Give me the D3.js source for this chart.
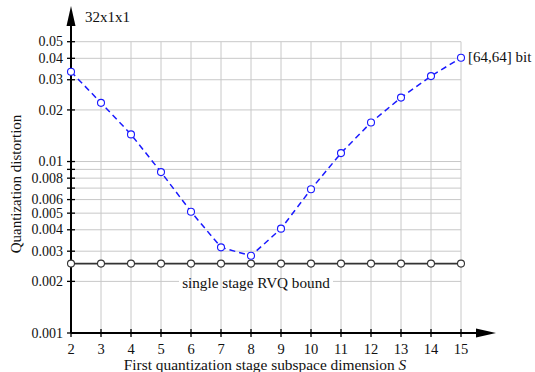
<!DOCTYPE html>
<html>
<head>
<meta charset="utf-8">
<script src="https://cdn.jsdelivr.net/npm/d3@7"></script>
<style>
  body { margin: 0; background: #fff; }
  text { font-family: "Liberation Serif", "Times New Roman", serif; fill: #111; }
</style>
</head>
<body>
<div id="chart"></div>
<script>
// data
const dims = [2, 3, 4, 5, 6, 7, 8, 9, 10, 11, 12, 13, 14, 15];
const distortion = [0.0334, 0.0220, 0.0144, 0.00868, 0.0051, 0.00316, 0.00282, 0.00406, 0.00689, 0.0112, 0.0169, 0.0236, 0.0315, 0.0403];
const bound = [0.00254, 0.00254, 0.00254, 0.00254, 0.00254, 0.00254, 0.00254, 0.00254, 0.00254, 0.00254, 0.00254, 0.00254, 0.00254, 0.00254];
const yTickLabels = [0.001, 0.002, 0.003, 0.004, 0.005, 0.006, 0.008, 0.01, 0.02, 0.03, 0.04, 0.05];
const yGridValues = [0.002, 0.003, 0.004, 0.005, 0.006, 0.007, 0.008, 0.009, 0.01, 0.02, 0.03, 0.04, 0.05];
const yMinorTicks = [0.007, 0.009];

const W = 535, H = 372;
const svg = d3.select("#chart").append("svg")
    .attr("width", W).attr("height", H);

const x = d3.scaleLinear().domain([2, 15]).range([71, 461]);
const y = d3.scaleLog().domain([0.001, 0.05]).range([333, 41.7]);

// grid: horizontal lines
const grid = svg.append("g").attr("stroke", "#c8c8c8").attr("stroke-width", 1);
grid.selectAll("line.h").data(yGridValues).enter().append("line")
    .attr("x1", x(2)).attr("x2", x(15))
    .attr("y1", d => y(d)).attr("y2", d => y(d));

// white band hiding the 0.002 line behind the bound label
svg.append("rect")
    .attr("x", 179).attr("y", y(0.002) - 2).attr("width", 154).attr("height", 4)
    .attr("fill", "#fff");

// grid: vertical lines
svg.append("g").attr("stroke", "#c8c8c8").attr("stroke-width", 1)
    .selectAll("line").data(dims.slice(1)).enter().append("line")
    .attr("x1", d => x(d)).attr("x2", d => x(d))
    .attr("y1", y(0.001)).attr("y2", y(0.05));

// bound label
svg.append("text")
    .attr("x", 256).attr("y", 288)
    .attr("text-anchor", "middle")
    .attr("font-size", 15.2)
    .text("single stage RVQ bound");

// axes
const axes = svg.append("g").attr("stroke", "#000");
axes.append("line").attr("x1", x(2)).attr("x2", 480)
    .attr("y1", y(0.001)).attr("y2", y(0.001)).attr("stroke-width", 2);
axes.append("line").attr("x1", x(2)).attr("x2", x(2))
    .attr("y1", y(0.001)).attr("y2", 22).attr("stroke-width", 2);
svg.append("path").attr("d", `M496,${y(0.001)} L476,${y(0.001) - 4.5} L476,${y(0.001) + 4.5} Z`).attr("fill", "#000");
svg.append("path").attr("d", `M${x(2)},6 L${x(2) - 4.5},26 L${x(2) + 4.5},26 Z`).attr("fill", "#000");

// ticks crossing the axes
axes.selectAll("line.yt").data(yTickLabels.concat(yMinorTicks)).enter().append("line")
    .attr("x1", x(2) - 4).attr("x2", x(2) + 4)
    .attr("y1", d => y(d)).attr("y2", d => y(d)).attr("stroke-width", 1.3);
axes.selectAll("line.xt").data(dims).enter().append("line")
    .attr("x1", d => x(d)).attr("x2", d => x(d))
    .attr("y1", y(0.001) - 4).attr("y2", y(0.001) + 4).attr("stroke-width", 1.3);

// tick labels
svg.selectAll("text.yl").data(yTickLabels).enter().append("text")
    .attr("x", x(2) - 8).attr("y", d => y(d) + 4.6)
    .attr("text-anchor", "end").attr("font-size", 14)
    .text(d => String(d));
svg.selectAll("text.xl").data(dims).enter().append("text")
    .attr("x", d => x(d)).attr("y", 354)
    .attr("text-anchor", "middle").attr("font-size", 14.5)
    .text(d => d);

// axis titles
const xt = svg.append("text")
    .attr("x", 265).attr("y", 370)
    .attr("text-anchor", "middle").attr("font-size", 15.4);
xt.append("tspan").text("First quantization stage subspace dimension ");
xt.append("tspan").attr("font-style", "italic").text("S");

svg.append("text")
    .attr("transform", "translate(21,184) rotate(-90)")
    .attr("text-anchor", "middle").attr("font-size", 15)
    .text("Quantization distortion");

svg.append("text").attr("x", 85).attr("y", 22).attr("font-size", 15).text("32x1x1");

// bound line
const line = (vals) => d3.line().x((d, i) => x(dims[i])).y(d => y(d))(vals);
svg.append("path").attr("d", line(bound))
    .attr("fill", "none").attr("stroke", "#333").attr("stroke-width", 1.6);
svg.selectAll("circle.b").data(bound).enter().append("circle")
    .attr("cx", (d, i) => x(dims[i])).attr("cy", d => y(d)).attr("r", 3.5)
    .attr("fill", "#fff").attr("stroke", "#333").attr("stroke-width", 1.1);

// distortion line
svg.append("path").attr("d", line(distortion))
    .attr("fill", "none").attr("stroke", "#1a1aff").attr("stroke-width", 1.5)
    .attr("stroke-dasharray", "6,4");
svg.selectAll("circle.d").data(distortion).enter().append("circle")
    .attr("cx", (d, i) => x(dims[i])).attr("cy", d => y(d)).attr("r", 3.5)
    .attr("fill", "#fff").attr("stroke", "#1a1aff").attr("stroke-width", 1.1);

svg.append("text").attr("x", 468).attr("y", 62).attr("font-size", 15).text("[64,64] bit");
</script>
</body>
</html>
